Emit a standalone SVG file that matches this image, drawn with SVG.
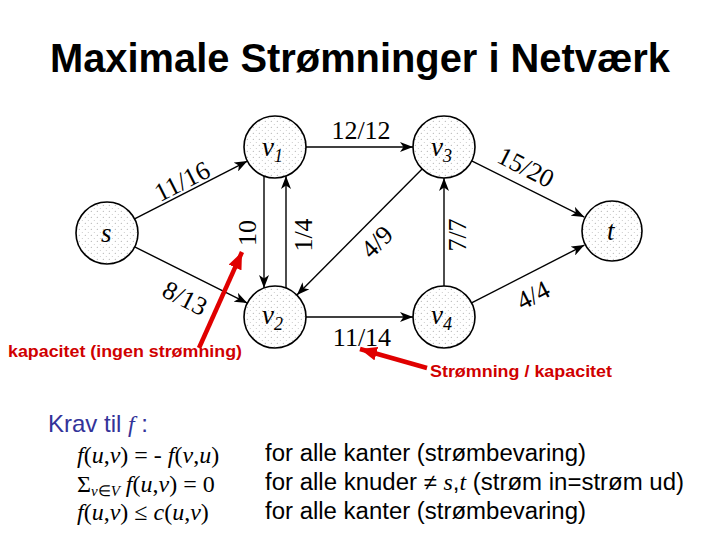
<svg xmlns="http://www.w3.org/2000/svg" width="720" height="540" viewBox="0 0 720 540">
<defs>
<pattern id="dots" width="6" height="6" patternUnits="userSpaceOnUse">
<rect width="6" height="6" fill="#ffffff"/>
<circle cx="1.2" cy="1.3" r="0.45" fill="#555"/>
<circle cx="4.2" cy="4.4" r="0.4" fill="#777"/>
</pattern>
<marker id="ah" markerUnits="userSpaceOnUse" markerWidth="14" markerHeight="10" refX="13" refY="5" orient="auto">
<path d="M0,0 L13,5 L0,10 L3.5,5 z" fill="#000"/>
</marker>
<marker id="rh" markerUnits="userSpaceOnUse" markerWidth="18" markerHeight="14" refX="17" refY="7" orient="auto">
<path d="M0,0 L17,7 L0,14 z" fill="#e00000"/>
</marker>
</defs>
<style>
.node circle{fill:url(#dots);stroke:#000;stroke-width:1.6}
.nl{font-family:"Liberation Serif","Times New Roman",serif;font-style:italic;font-size:27px;fill:#000}
.sub{font-size:18px}
.edge{stroke:#000;stroke-width:1.4;fill:none;marker-end:url(#ah)}
.el{font-family:"Liberation Serif","Times New Roman",serif;font-size:26px;fill:#000;text-anchor:middle}
.red{stroke:#e00000;stroke-width:4.5;fill:none;marker-end:url(#rh)}
.rt{font-family:"Liberation Sans",Arial,sans-serif;font-weight:bold;font-size:17px;fill:#d00000}
.mt{font-family:"Liberation Serif","Times New Roman",serif;font-size:24px;fill:#000}
.it{font-style:italic}
.bt{font-family:"Liberation Sans",Arial,sans-serif;font-size:23px;fill:#000}
</style>

<text x="360" y="72" text-anchor="middle" font-family="Liberation Sans, Arial, sans-serif" font-weight="bold" font-size="40" textLength="620" lengthAdjust="spacingAndGlyphs">Maximale Strømninger i Netværk</text>

<g id="connectors">
<line class="edge" x1="134.6" y1="218.9" x2="247.4" y2="161.1"/>
<line class="edge" x1="134.7" y1="246.9" x2="247.3" y2="303.1"/>
<line class="edge" x1="306" y1="147" x2="413" y2="147"/>
<line class="edge" x1="306" y1="317" x2="413" y2="317"/>
<line class="edge" x1="264" y1="176" x2="264" y2="288"/>
<line class="edge" x1="286" y1="288" x2="286" y2="176"/>
<line class="edge" x1="444" y1="286" x2="444" y2="178"/>
<line class="edge" x1="422.1" y1="169" x2="296.9" y2="295"/>
<line class="edge" x1="471.7" y1="160.9" x2="584.3" y2="217.1"/>
<line class="edge" x1="471.6" y1="302.9" x2="584.4" y2="245.1"/>
<text class="el" transform="translate(186,189) rotate(-27)">11/16</text>
<text class="el" transform="translate(181,306) rotate(27)">8/13</text>
<text class="el" transform="translate(256,233) rotate(-90)">10</text>
<text class="el" transform="translate(312,235) rotate(-90)">1/4</text>
<text class="el" x="361" y="139">12/12</text>
<text class="el" transform="translate(383,248) rotate(-45)">4/9</text>
<text class="el" transform="translate(466,235) rotate(-90)">7/7</text>
<text class="el" transform="translate(522,175) rotate(27)">15/20</text>
<text class="el" transform="translate(537,303) rotate(-27)">4/4</text>
<text class="el" x="362" y="346">11/14</text>
</g>

<g id="node-s" class="node"><circle cx="107" cy="233" r="31"/><text class="nl" x="101" y="242">s</text></g>
<g id="node-v1" class="node"><circle cx="275" cy="147" r="31"/><text class="nl" x="262" y="156">v<tspan class="sub" dy="6">1</tspan></text></g>
<g id="node-v2" class="node"><circle cx="275" cy="317" r="31"/><text class="nl" x="262" y="324">v<tspan class="sub" dy="6">2</tspan></text></g>
<g id="node-v3" class="node"><circle cx="444" cy="147" r="31"/><text class="nl" x="431" y="156">v<tspan class="sub" dy="6">3</tspan></text></g>
<g id="node-v4" class="node"><circle cx="444" cy="317" r="31"/><text class="nl" x="431" y="324">v<tspan class="sub" dy="6">4</tspan></text></g>
<g id="node-t" class="node"><circle cx="612" cy="231" r="30"/><text class="nl" x="607" y="240">t</text></g>

<g id="annotations">
<line class="red" x1="199" y1="348" x2="242" y2="252"/>
<line class="red" x1="427" y1="368" x2="360" y2="349"/>
<text class="rt" x="8" y="357" textLength="234" lengthAdjust="spacingAndGlyphs">kapacitet (ingen strømning)</text>
<text class="rt" x="430" y="377" textLength="182" lengthAdjust="spacingAndGlyphs">Strømning / kapacitet</text>
</g>

<g id="requirements">
<text x="48" y="432" font-family="Liberation Sans, Arial, sans-serif" font-size="24" fill="#333399">Krav til <tspan font-family="Liberation Serif, Times New Roman, serif" font-style="italic">f</tspan> :</text>
<text class="mt" x="77" y="463"><tspan class="it">f</tspan>(<tspan class="it">u</tspan>,<tspan class="it">v</tspan>) = - <tspan class="it">f</tspan>(<tspan class="it">v</tspan>,<tspan class="it">u</tspan>)</text>
<text class="mt" x="77" y="492">Σ<tspan class="it" font-size="15" dy="4">v</tspan><tspan font-size="15">∈</tspan><tspan class="it" font-size="15">V</tspan><tspan dy="-4"> </tspan><tspan class="it">f</tspan>(<tspan class="it">u</tspan>,<tspan class="it">v</tspan>) = 0</text>
<text class="mt" x="77" y="520"><tspan class="it">f</tspan>(<tspan class="it">u</tspan>,<tspan class="it">v</tspan>) ≤ <tspan class="it">c</tspan>(<tspan class="it">u</tspan>,<tspan class="it">v</tspan>)</text>
<text class="bt" x="265" y="461" textLength="321" lengthAdjust="spacingAndGlyphs">for alle kanter (strømbevaring)</text>
<text class="bt" x="265" y="490" textLength="419" lengthAdjust="spacingAndGlyphs">for alle knuder ≠ <tspan font-family="Liberation Serif, Times New Roman, serif" font-style="italic">s</tspan>,<tspan font-family="Liberation Serif, Times New Roman, serif" font-style="italic">t</tspan> (strøm in=strøm ud)</text>
<text class="bt" x="265" y="519" textLength="321" lengthAdjust="spacingAndGlyphs">for alle kanter (strømbevaring)</text>
</g>
</svg>
